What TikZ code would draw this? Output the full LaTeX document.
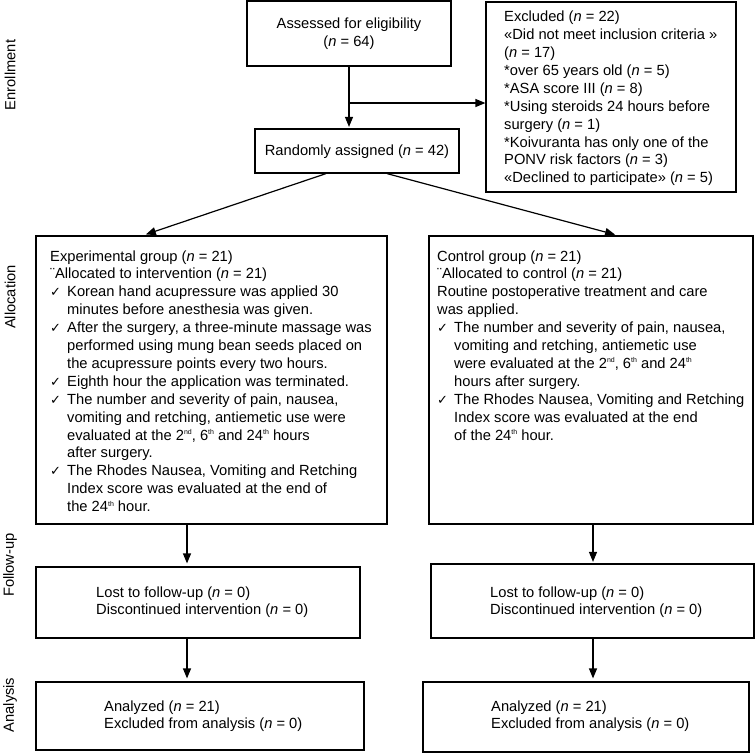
\documentclass[tikz,border=0pt]{standalone}
\usepackage{fontspec}
\setmainfont{Liberation Sans}
\newfontfamily\dejavu{DejaVu Sans}
\usetikzlibrary{arrows.meta}
\newcommand{\ck}{\makebox[17pt][l]{{\dejavu\fontsize{13}{13}\selectfont ✓}}}
\newcommand{\ind}{\hspace*{17pt}}
\newcommand{\nn}{\textit{n}}
\newcommand{\sups}[1]{\raisebox{5.5pt}{\fontsize{7}{7}\selectfont #1}}
\tikzset{
  box/.style={draw, line width=1.2pt, inner sep=0pt, rectangle},
  txt/.style={anchor=base west, inner sep=0pt, font=\fontsize{14.7}{17.9}\selectfont},
  ctxt/.style={anchor=base, inner sep=0pt, font=\fontsize{14.7}{17.9}\selectfont},
  side/.style={rotate=90, inner sep=0pt, font=\fontsize{14.7}{17.9}\selectfont},
  arr/.style={line width=1.2pt, -{Triangle[length=10pt,width=8pt]}}
}
\begin{document}
\begin{tikzpicture}[x=1pt,y=-1pt]
\useasboundingbox (0,0) rectangle (755,753);
% boxes
\node[box, minimum width=204pt, minimum height=65pt] (assess) at (349,33.5) {};
\node[box, minimum width=250pt, minimum height=190pt] (excl) at (611,97) {};
\node[box, minimum width=204pt, minimum height=44pt] (rand) at (357,151) {};
\node[box, minimum width=351pt, minimum height=288pt] (exp) at (211.5,380) {};
\node[box, minimum width=324pt, minimum height=288pt] (ctrl) at (591,380) {};
\node[box, minimum width=324pt, minimum height=71pt] (fua) at (198,602.5) {};
\node[box, minimum width=323pt, minimum height=74pt] (fub) at (592.5,601) {};
\node[box, minimum width=328pt, minimum height=68pt] (ana) at (200,716) {};
\node[box, minimum width=326pt, minimum height=70pt] (anb) at (586,717) {};
% texts
\node[ctxt] (assesst) at (349,28.5) {\parbox[t]{200pt}{\centering Assessed for eligibility\\(\nn{} = 64)}};
\node[txt] (exclt) at (504,21.7) {\parbox[t]{240pt}{\raggedright
Excluded (\nn{} = 22)\\
«Did not meet inclusion criteria »\\
(\nn{} = 17)\\
{*}over 65 years old (\nn{} = 5)\\
{*}ASA score III (\nn{} = 8)\\
{*}Using steroids 24 hours before\\
surgery (\nn{} = 1)\\
{*}Koivuranta has only one of the\\
PONV risk factors (\nn{} = 3)\\
«Declined to participate» (\nn{} = 5)}};
\node[ctxt] (randt) at (357,155) {Randomly assigned (\nn{} = 42)};
\node[txt] (expt) at (50,261) {\parbox[t]{335pt}{\raggedright
Experimental group (\nn{} = 21)\\
¨Allocated to intervention (\nn{} = 21)\\
\ck Korean hand acupressure was applied 30\\
\ind minutes before anesthesia was given.\\
\ck After the surgery, a three-minute massage was\\
\ind performed using mung bean seeds placed on\\
\ind the acupressure points every two hours.\\
\ck Eighth hour the application was terminated.\\
\ck The number and severity of pain, nausea,\\
\ind vomiting and retching, antiemetic use were\\
\ind evaluated at the 2\sups{nd}, 6\sups{th} and 24\sups{th} hours\\
\ind after surgery.\\
\ck The Rhodes Nausea, Vomiting and Retching\\
\ind Index score was evaluated at the end of\\
\ind the 24\sups{th} hour.}};
\node[txt] (ctrlt) at (437,261) {\parbox[t]{312pt}{\raggedright
Control group (\nn{} = 21)\\
¨Allocated to control (\nn{} = 21)\\
Routine postoperative treatment and care\\
was applied.\\
\ck The number and severity of pain, nausea,\\
\ind vomiting and retching, antiemetic use\\
\ind were evaluated at the 2\sups{nd}, 6\sups{th} and 24\sups{th}\\
\ind hours after surgery.\\
\ck The Rhodes Nausea, Vomiting and Retching\\
\ind Index score was evaluated at the end\\
\ind of the 24\sups{th} hour.}};
\node[txt] (fuat) at (96,597) {\parbox[t]{260pt}{\raggedright
Lost to follow-up (\nn{} = 0)\\
Discontinued intervention (\nn{} = 0)}};
\node[txt] (fubt) at (490,597) {\parbox[t]{260pt}{\raggedright
Lost to follow-up (\nn{} = 0)\\
Discontinued intervention (\nn{} = 0)}};
\node[txt] (anat) at (104,711) {\parbox[t]{255pt}{\raggedright
Analyzed (\nn{} = 21)\\
Excluded from analysis (\nn{} = 0)}};
\node[txt] (anbt) at (491,711) {\parbox[t]{255pt}{\raggedright
Analyzed (\nn{} = 21)\\
Excluded from analysis (\nn{} = 0)}};
% side labels
\node[side] (l1) at (10,75) {Enrollment};
\node[side] (l2) at (10,297) {Allocation};
\node[side] (l3) at (10,565) {Follow-up};
\node[side] (l4) at (10,705) {Analysis};
% connectors
\draw[arr, shorten >=1.5pt] (assess.south) -- (assess.south |- rand.north);
\coordinate (br) at (349,103);
\draw[arr] (br) -- (br -| excl.west);
\draw[arr, shorten >=3pt] ([xshift=-31pt]rand.south) -- ([xshift=-68.5pt]exp.north);
\draw[arr, shorten >=3pt] ([xshift=30pt]rand.south) -- ([xshift=27pt]ctrl.north);
\coordinate (xa) at (187,0);
\coordinate (xb) at (593,0);
\draw[arr, shorten >=3pt] (xa |- exp.south) -- (xa |- fua.north);
\draw[arr, shorten >=3pt] (xa |- fua.south) -- (xa |- ana.north);
\draw[arr, shorten >=1.5pt] (xb |- ctrl.south) -- (xb |- fub.north);
\draw[arr, shorten >=3pt] (xb |- fub.south) -- (xb |- anb.north);
\end{tikzpicture}
\end{document}
